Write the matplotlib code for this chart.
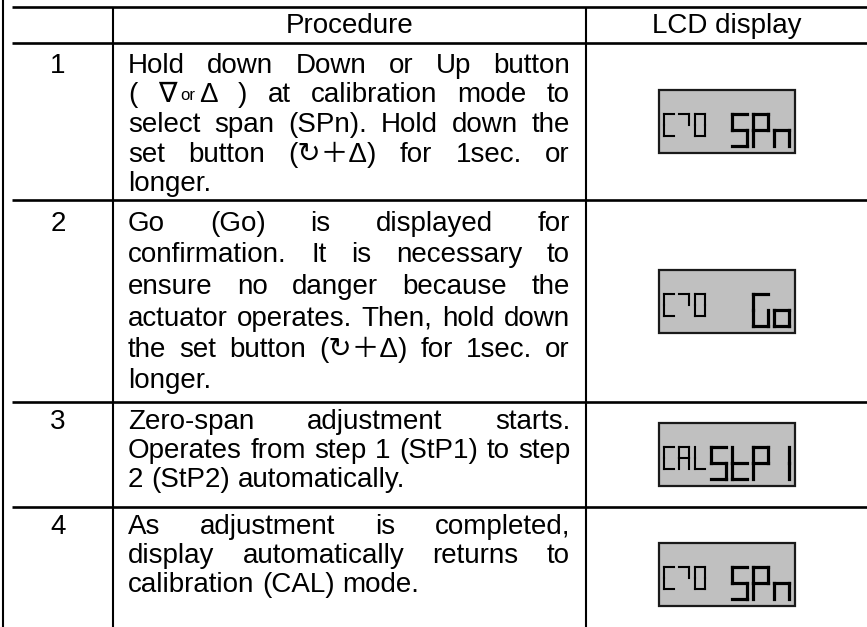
import re
import matplotlib
matplotlib.use('Agg')
import matplotlib.pyplot as plt
from matplotlib.patches import Rectangle

plt.rcParams['font.family'] = ['Liberation Sans', 'DejaVu Sans', 'Noto Sans CJK JP']

# table content
headers = ['Procedure', 'LCD display']
steps = ['1', '2', '3', '4']
procedure = [
    ['Hold down Down or Up button',
     '( \u2207<or>\u0394 ) at calibration mode to',
     'select span (SPn). Hold down the',
     'set button (\u21bb\uff0b\u0394) for 1sec. or',
     'longer.'],
    ['Go (Go) is displayed for',
     'confirmation. It is necessary to',
     'ensure no danger because the',
     'actuator operates. Then, hold down',
     'the set button (\u21bb\uff0b\u0394) for 1sec. or',
     'longer.'],
    ['Zero-span adjustment starts.',
     'Operates from step 1 (StP1) to step',
     '2 (StP2) automatically.'],
    ['As adjustment is completed,',
     'display automatically returns to',
     'calibration (CAL) mode.'],
]
lcd_left = ['C70', 'C70', 'CAL', 'C70']
lcd_right = ['SPn', 'Go', 'StP1', 'SPn']

# 7-segment shapes for the LCD glyphs
SEGS = {
    'C': 'afed', '7': 'ab', '0': 'abcdef', 'A': 'abcefg', 'L': 'fed',
    'S': 'afgcd', 'P': 'abfge', 'n': 'egc', 'G': 'afedc', 'o': 'gcde',
    't': 'fged', '1': 'bc',
}

# layout in pixels
W, H = 867, 627
row_lines = [7, 43, 200, 402, 507]
row_bottom = 641
col_x = [3, 113, 586, 867]
text_l, text_r = 128, 570
fs = 20
first_off = [20, 21, 17, 17]
line_h = [29.5, 31.5, 29, 29]

fig = plt.figure(figsize=(W / 100, H / 100), dpi=100)
ax = fig.add_axes([0, 0, 1, 1])
ax.set_xlim(0, W)
ax.set_ylim(H, 0)
ax.axis('off')
renderer = fig.canvas.get_renderer()


def text_w(s, size):
    t = ax.text(0, 0, s, fontsize=size)
    w = t.get_window_extent(renderer).width
    t.remove()
    return w


space_w = text_w('a a', fs) - text_w('aa', fs)


def word_pieces(word):
    out = []
    for p in re.split(r'(<[^>]*>)', word):
        if not p:
            continue
        if p.startswith('<'):
            out.append((p[1:-1], fs * 0.6))
        else:
            out.append((p, fs))
    return out


def draw_line(line, yc, justify):
    words = [word_pieces(w) for w in line.split(' ')]
    widths = []
    for pcs in words:
        widths.append(sum(text_w(s, sz) for s, sz in pcs) + 4 * (len(pcs) - 1))
    gap = space_w
    if justify and len(words) > 1:
        gap = (text_r - text_l - sum(widths)) / (len(words) - 1)
    x = text_l
    base = yc + 10
    for pcs, w in zip(words, widths):
        xx = x
        for s, sz in pcs:
            ax.text(xx, base - (2 if sz < fs else 0), s, fontsize=sz,
                    va='baseline', ha='left')
            xx += text_w(s, sz) + 4
        x += w + gap


def draw_char(ch, x0, y0, w, h, lw):
    pts = {
        'a': ((x0, y0), (x0 + w, y0)),
        'b': ((x0 + w, y0), (x0 + w, y0 + h / 2)),
        'c': ((x0 + w, y0 + h / 2), (x0 + w, y0 + h)),
        'd': ((x0, y0 + h), (x0 + w, y0 + h)),
        'e': ((x0, y0 + h / 2), (x0, y0 + h)),
        'f': ((x0, y0), (x0, y0 + h / 2)),
        'g': ((x0, y0 + h / 2), (x0 + w, y0 + h / 2)),
    }
    for s in SEGS.get(ch, ''):
        (xa, ya), (xb, yb) = pts[s]
        ax.plot([xa, xb], [ya, yb], color='black', lw=lw,
                solid_capstyle='projecting')


def draw_lcd(left, right, yc):
    bw, bh = 136, 63
    bx = (col_x[2] + col_x[3]) / 2 - bw / 2
    by = yc - bh / 2
    ax.add_patch(Rectangle((bx, by), bw, bh, facecolor='#c0c0c0',
                           edgecolor='#1a1a1a', lw=1.6))
    top = by + 24
    for i, ch in enumerate(left):
        draw_char(ch, bx + 5 + i * 15.5, top, 10, 22, 1.5)
    for i, ch in enumerate(reversed(right)):
        draw_char(ch, bx + bw - 6 - 15 - i * 21, top, 15, 32, 2.3)


# grid lines
ax.hlines(row_lines, 12, W, color='black', lw=1.9)
ax.vlines(col_x[0], 0, H, color='black', lw=1.5)
ax.vlines(col_x[1:3], row_lines[0], H, color='black', lw=1.5)

# header
hy = (row_lines[0] + row_lines[1]) / 2
ax.text((col_x[1] + col_x[2]) / 2, hy + 8, headers[0], fontsize=fs,
        ha='center', va='baseline')
ax.text((col_x[2] + col_x[3]) / 2, hy + 8, headers[1], fontsize=fs,
        ha='center', va='baseline')

bounds = row_lines[1:] + [row_bottom]
for i, step in enumerate(steps):
    top, bot = bounds[i], bounds[i + 1]
    lines = procedure[i]
    for j, line in enumerate(lines):
        yc = top + first_off[i] + j * line_h[i]
        draw_line(line, yc, j < len(lines) - 1)
    ax.text((col_x[0] + col_x[1]) / 2, top + first_off[i] + 10, step,
            fontsize=fs, ha='center', va='baseline')
    draw_lcd(lcd_left[i], lcd_right[i], (top + bot) / 2)

fig.savefig('out.png', dpi=100)
